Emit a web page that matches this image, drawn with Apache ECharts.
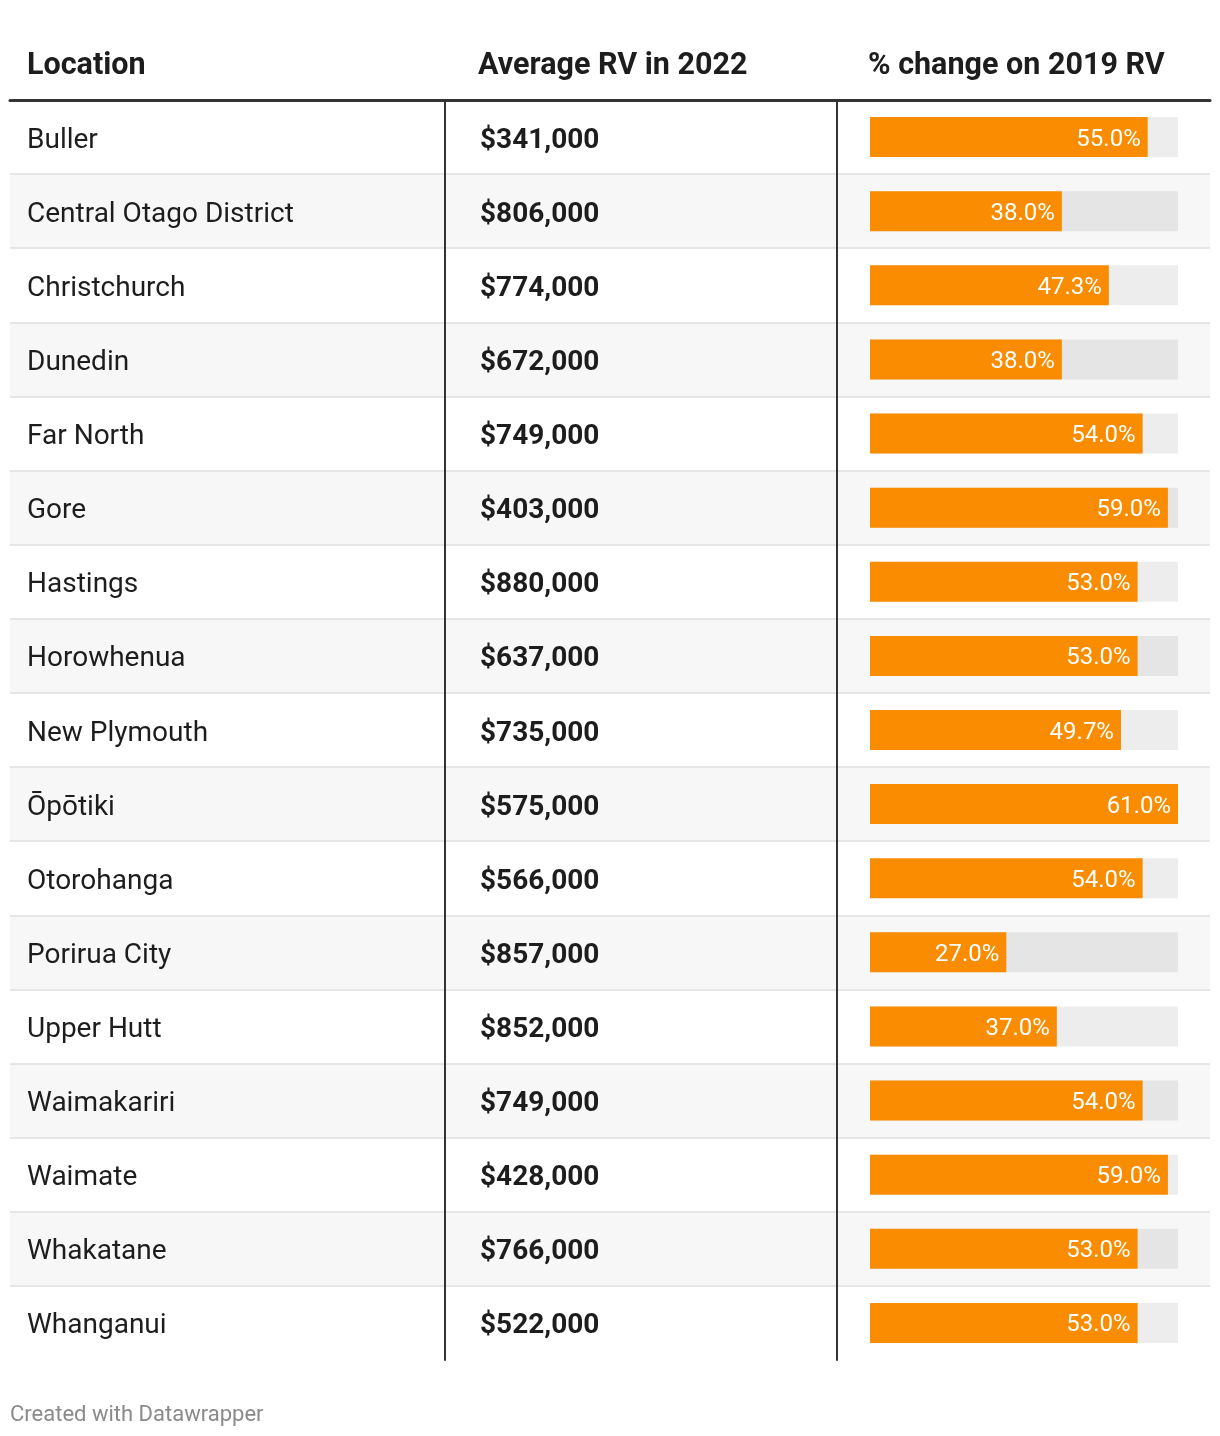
<!DOCTYPE html>
<html>
<head>
<meta charset="utf-8">
<script src="https://cdn.jsdelivr.net/npm/echarts@6/dist/echarts.min.js"></script>
<style>
html,body{margin:0;padding:0;background:#fff;}
#chart{width:1220px;height:1436px;}
</style>
</head>
<body>
<div id="chart"></div>
<script>
const headers = ['Location', 'Average RV in 2022', '% change on 2019 RV'];
const locations = ['Buller', 'Central Otago District', 'Christchurch', 'Dunedin', 'Far North', 'Gore', 'Hastings', 'Horowhenua', 'New Plymouth', 'Ōpōtiki', 'Otorohanga', 'Porirua City', 'Upper Hutt', 'Waimakariri', 'Waimate', 'Whakatane', 'Whanganui'];
const rv2022 = [341000, 806000, 774000, 672000, 749000, 403000, 880000, 637000, 735000, 575000, 566000, 857000, 852000, 749000, 428000, 766000, 522000];
const pctChange = [55.0, 38.0, 47.3, 38.0, 54.0, 59.0, 53.0, 53.0, 49.7, 61.0, 54.0, 27.0, 37.0, 54.0, 59.0, 53.0, 53.0];
const pctMax = 61;
const footer = 'Created with Datawrapper';

function money(v){ return '$' + String(v).replace(/\B(?=(\d{3})+(?!\d))/g, ','); }
const rvLabels = rv2022.map(money);

const FONT = 'Roboto';
const chart = echarts.init(document.getElementById('chart'), null, {renderer:'canvas'});
const headStyle = {fontFamily:FONT,fontWeight:'bold',fontSize:30.5,color:'#1d1d1d'};
// separator colours: one per band boundary (first hidden under header rule, last not drawn)
const sepColors = ['rgba(0,0,0,0)'].concat(locations.slice(1).map(()=>'#e6e6e6'), ['rgba(0,0,0,0)']);
chart.setOption({
  backgroundColor:'#ffffff',
  animation:false,
  title:[
    {text:headers[0], left:27, top:66, textVerticalAlign:'middle', textStyle:headStyle, padding:0},
    {text:headers[1], left:478, top:66, textVerticalAlign:'middle', textStyle:headStyle, padding:0},
    {text:headers[2], left:868, top:66, textVerticalAlign:'middle', textStyle:headStyle, padding:0},
    {text:footer, left:10, top:1415, textStyle:{fontFamily:FONT,fontWeight:'normal',fontSize:22,color:'#8a8a8a'}, padding:0, textVerticalAlign:'middle'}
  ],
  grid:[
    {left:10, width:1200, top:100, height:1260, containLabel:false},
    {left:870, width:308, top:100, height:1260, containLabel:false},
    {left:445, width:392, top:100, height:1260, containLabel:false},
    {left:10, width:435, top:103.5, height:1260, containLabel:false},
    {left:445, width:392, top:103.5, height:1260, containLabel:false}
  ],
  xAxis:[
    {gridIndex:0, type:'value', min:0, max:1, position:'top', z:3,
     axisLine:{show:true, onZero:false, lineStyle:{color:'#333333', width:3}},
     axisTick:{show:false}, axisLabel:{show:false}, splitLine:{show:false}},
    {gridIndex:1, type:'value', min:0, max:pctMax, show:false},
    {gridIndex:2, type:'value', min:0, max:1, show:false},
    {gridIndex:3, type:'value', min:0, max:1, show:false},
    {gridIndex:4, type:'value', min:0, max:1, show:false}
  ],
  yAxis:[
    {gridIndex:0, type:'category', inverse:true, data:locations, z:0,
     axisLine:{show:false}, axisTick:{show:false}, axisLabel:{show:false},
     splitLine:{show:true, lineStyle:{color:sepColors, width:2}},
     splitArea:{show:true, areaStyle:{color:['#ffffff','#f7f7f7']}}},
    {gridIndex:1, type:'category', inverse:true, data:locations, show:false},
    {gridIndex:2, type:'category', inverse:true, data:rvLabels, position:'left', z:3,
     axisLine:{show:true, lineStyle:{color:'#333333', width:2}}, axisTick:{show:false},
     axisLabel:{show:false}, splitLine:{show:false}},
    {gridIndex:2, type:'category', inverse:true, data:rvLabels, position:'right', z:3,
     axisLine:{show:true, lineStyle:{color:'#333333', width:2}}, axisTick:{show:false},
     axisLabel:{show:false}, splitLine:{show:false}},
    {gridIndex:3, type:'category', inverse:true, data:locations, z:4,
     axisLine:{show:false}, axisTick:{show:false}, splitLine:{show:false},
     axisLabel:{show:true, inside:true, margin:17, fontFamily:FONT, fontSize:28, color:'#1d1d1d'}},
    {gridIndex:4, type:'category', inverse:true, data:rvLabels, z:4,
     axisLine:{show:false}, axisTick:{show:false}, splitLine:{show:false},
     axisLabel:{show:true, inside:true, margin:35, fontFamily:FONT, fontWeight:'bold', fontSize:28, color:'#1d1d1d'}}
  ],
  series:[
    {type:'bar', xAxisIndex:1, yAxisIndex:1, barWidth:40, barGap:'-100%', silent:true,
     data:locations.map(()=>pctMax), itemStyle:{color:'rgba(0,0,0,0.07)'}, z:2},
    {type:'bar', xAxisIndex:1, yAxisIndex:1, barWidth:40, data:pctChange, z:3,
     itemStyle:{color:'#f98c00'},
     label:{show:true, position:'insideRight', distance:7, offset:[0,2.5], formatter:p=>p.value.toFixed(1)+'%',
            fontFamily:FONT, fontSize:24, color:'#ffffff'}}
  ]
});
</script>
</body>
</html>
